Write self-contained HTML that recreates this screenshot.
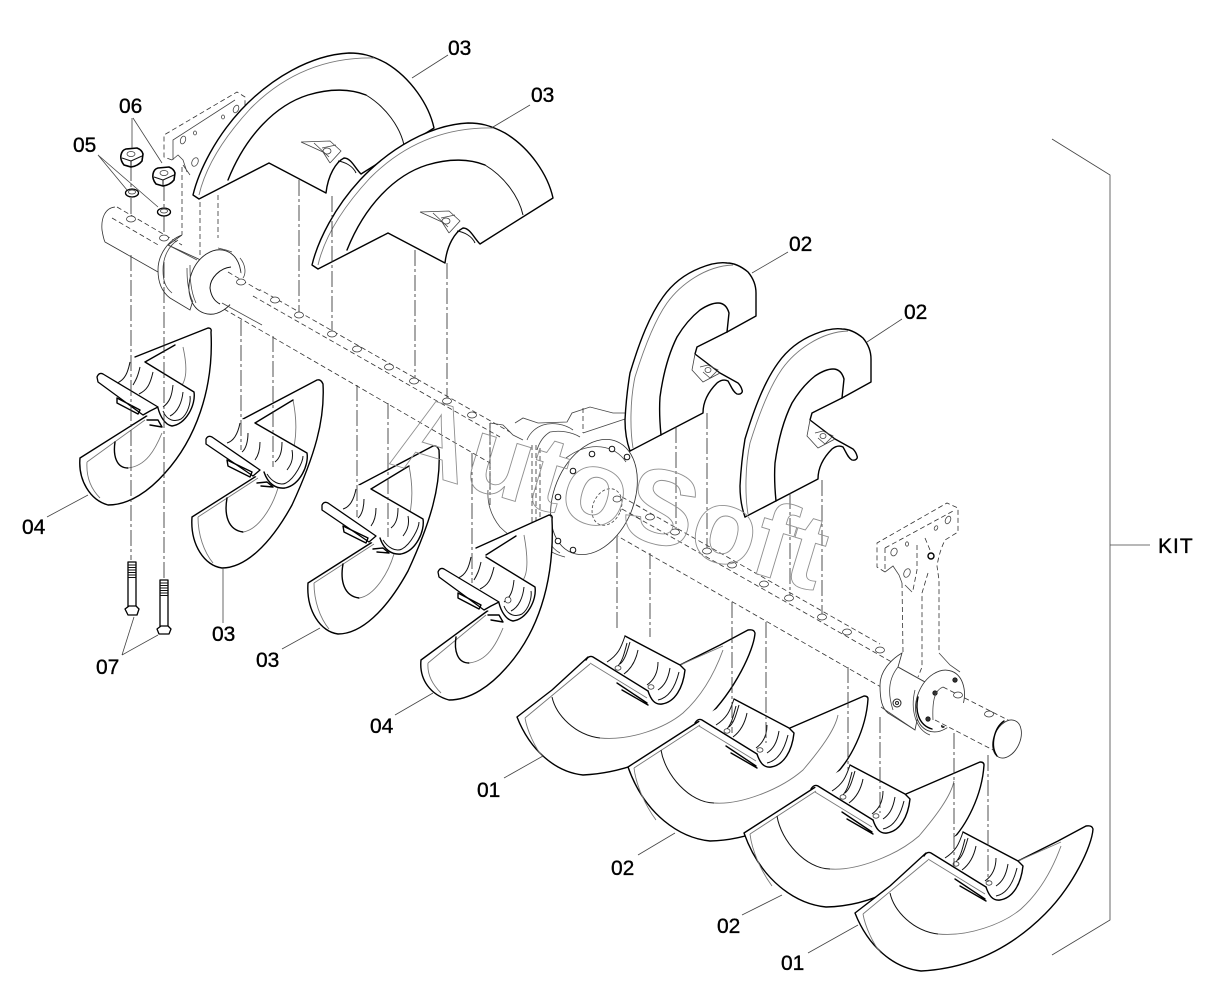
<!DOCTYPE html>
<html><head><meta charset="utf-8"><title>Exploded diagram</title>
<style>
html,body{margin:0;padding:0;background:#fff;width:1218px;height:999px;overflow:hidden}
svg{display:block}
.k{fill:none;stroke:#000;stroke-width:1.4;stroke-linejoin:round;stroke-linecap:round}
.m{fill:none;stroke:#111;stroke-width:1;stroke-linejoin:round}
.l{fill:none;stroke:#777;stroke-width:.9}
.t{fill:none;stroke:#444;stroke-width:.8}
.d{fill:none;stroke:#333;stroke-width:.8;stroke-dasharray:5 3}
.v{fill:none;stroke:#333;stroke-width:.85;stroke-dasharray:16 3 3 3}
.w{fill:#fff;stroke:none}
.wk{fill:#fff;stroke:#000;stroke-width:1.3;stroke-linejoin:round}
.wm{fill:#fff;stroke:#333;stroke-width:.85}
.h{fill:#fff;stroke:#333;stroke-width:.75}
text.n{font-family:"Liberation Sans",sans-serif;font-size:21px;fill:#000;stroke:#000;stroke-width:.35}
text.wm2{font-family:"Liberation Sans",sans-serif;font-weight:bold;font-size:106px;fill:none;stroke:#909090;stroke-width:.9}
</style></head><body>
<svg xmlns="http://www.w3.org/2000/svg" width="1218" height="999" viewBox="0 0 1218 999">
<rect width="1218" height="999" fill="#fff"/>
<defs>
<g id="bladeA">
<path class="w" d="M312 263L318 269L388 233L445 263C447 245 455 232 463 228C470 228 474 238 480 244L553 198C548 175 530 148 505 133C490 125 480 123 468 123C430 125 390 148 360 180C335 207 318 240 312 263Z"/>
<path class="k" d="M312 265L318 269L388 233L445 263C447 245 455 232 463 228C470 228 474 238 480 244L553 198C548 175 530 148 505 133C490 125 480 123 468 123C430 125 390 148 360 180C335 207 318 240 312 265Z"/>
<path class="k" d="M347 250C365 205 395 175 427 165C450 158 470 159 485 165"/>
<path class="m" d="M485 165C505 177 519 197 523 215"/>
<path class="l" d="M318 265C325 235 345 205 370 178C400 148 440 127 493 128"/>
<path class="t" d="M420 212L449 211L460 221L449 233M420 212L442 222L449 233M433 213L448 227M441 218L455 215"/>
<ellipse class="t" cx="446" cy="221" rx="4" ry="3"/>
<path class="m" d="M457 231C464 232 472 236 475 243"/>
</g>
<g id="bladeD">
<path class="w" d="M630 451L625 430C625 400 628 385 630 373C640 340 650 315 663 297C675 280 690 272 700 268L727 263C735 263 742 267 748 272C753 278 756 285 756 293L756 316L727 332L697 347L742 390L737 394L707 403L703 413Z"/>
<path class="k" d="M630 451C626 440 625 430 625 420C626 400 628 385 630 373C640 340 650 315 663 297C675 280 690 272 700 268C710 264 720 262 727 263C735 263 742 267 748 272C753 278 756 285 756 293L756 316L727 332"/>
<path class="k" d="M727 332L729 313C727 306 723 303 718 303C712 303 706 306 700 310C690 318 683 327 677 337C668 355 663 375 660 397C659 412 660 425 661 435"/>
<path class="k" d="M630 451L703 413C703 403 707 393 717 383C722 379 726 380 728 381C731 386 733 392 737 394C741 395 743 392 742 390C741 386 739 384 738 383L720 373L695 354L697 347L727 332"/>
<path class="t" d="M695 354L692 370L703 382L720 373M700 367L708 365L718 370L710 378L703 372"/>
<ellipse class="t" cx="708" cy="370" rx="3" ry="2.5"/>
<path class="l" d="M633 448C630 430 630 400 635 377C645 345 655 320 667 303C680 285 705 266 733 265"/>
</g>
<g id="intB1">
<path class="w" d="M133 357L145 362L194 392L188 413L170 425L143 414L97 380Z"/>
<path class="k" d="M145 362L194 392C196 405 186 424 172 426C165 425 160 416 158 408"/>
<path class="m" d="M163 411C167 421 175 422 181 419C188 414 191 402 190 396"/>
<path class="wk" d="M97 377Q99 372 103 374L158 407L150 411L143 415L98 382Z"/>
<path class="m" d="M130 362C128 372 125 380 117 383M140 367C138 376 136 380 133 385M153 372C150 385 147 390 139 394M173 385C172 395 170 402 163 407M183 392C182 402 178 412 170 416"/>
<path class="k" d="M117 398L140 410L138 414L117 403ZM147 420L158 420L162 427L150 425"/>
</g>
<g id="intB2">
<path class="w" d="M243 419L255 423L307 453L305 470L287 487L270 485L245 470L206 445Z"/>
<path class="k" d="M255 423L307 453C309 465 300 485 285 488C276 489 268 484 264 472"/>
<path class="m" d="M267 474C272 482 280 486 286 483C295 478 303 462 303 456"/>
<path class="wk" d="M206 439Q208 435 212 437L260 470L253 476L206 444Z"/>
<path class="m" d="M240 423C238 433 234 441 227 443M248 433C248 441 246 449 242 452M260 442C260 450 258 456 255 460M282 442C282 452 280 458 275 462M292 450C294 460 290 466 287 470"/>
<path class="k" d="M227 460L252 472L250 477L228 466ZM257 483L267 482L273 487L261 486"/>
</g>
<g id="intC">
<path class="w" d="M588 657L625 636L680 665L685 670C683 690 675 706 660 704L650 692Z"/>
<path class="k" d="M625 636L680 665L685 670C683 688 675 702 662 704C655 705 651 700 648 691"/>
<path class="k" d="M586 660Q589 655 593 657L648 691"/>
<path class="m" d="M625 636C621 648 618 655 607 662M630 642C627 652 625 660 620 664"/>
<path class="m" d="M627 643C624 655 622 662 617 667M638 650C636 660 632 668 624 674M658 662C658 672 654 680 647 685M670 668C668 680 664 686 658 690"/>
<path class="l" d="M590 663L647 698"/>
<path class="m" d="M679 672C675 688 668 698 658 700"/>
<ellipse class="h" cx="618" cy="668" rx="3" ry="2.2"/>
<ellipse class="h" cx="651" cy="687" rx="3" ry="2.2"/>
<path class="k" d="M617 683L647 703M622 690L648 705"/>
</g>
<g id="c01">
<path class="w" d="M517 717L552 690L588 657L625 636L680 665L748 630L755 633C754 650 735 690 707 718C680 745 640 772 583 775C555 772 530 750 517 717Z"/>
<path class="k" d="M517 717L552 690L588 657M680 665L720 645L748 630Q754 629 755 633C754 650 735 690 707 718C680 745 640 772 583 775C555 772 530 750 517 717"/>
<path class="l" d="M525 718L590 664M525 718C527 730 535 748 543 757"/>
<path class="m" d="M552 697C556 715 575 735 600 738"/>
<path class="l" d="M600 738C630 741 665 728 683 713C703 695 715 672 723 650M680 665L723 646"/>
<use href="#intC"/>
</g>
<g id="c02">
<path class="w" d="M628 767L700 720L733 700L796 731L864 696L868 699C866 730 850 760 835 775C800 815 760 840 710 841C680 838 645 815 628 767Z"/>
<path class="k" d="M628 767L701 720M790 728L864 696Q868 696 868 699C866 730 850 760 835 775C800 815 760 840 710 841C680 838 645 815 628 767"/>
<path class="l" d="M634 768L700 725M634 768C636 785 645 805 656 820"/>
<path class="m" d="M661 750C665 775 690 803 714 803"/>
<path class="l" d="M714 803C740 805 780 790 803 770C820 750 835 730 838 715"/>
<use href="#intC" transform="translate(109 63)"/>
</g>
<g id="b1o">
<path class="w" d="M80 458L145 417L135 357L208 328L211 332C214 390 195 440 165 473C150 490 130 505 108 505C90 500 78 480 80 458Z"/>
<path class="k" d="M80 458L145 417L158 408M135 357L208 328Q212 328 211 332C214 390 195 440 165 473C150 490 130 505 108 505C90 500 78 480 80 458"/>
<path class="l" d="M87 462L145 420M87 462C86 478 92 490 100 498M183 347C187 365 187 378 182 385"/>
<path class="k" d="M145 362L175 345"/>
<path class="k" d="M115 442C113 455 116 468 128 468"/>
<path class="l" d="M128 468C146 466 155 450 162 433"/>
<use href="#intB1"/>
</g>
<g id="b2o">
<path class="w" d="M192 517L255 477L243 419L317 380L323 384C325 420 315 455 292 505C270 545 245 568 222 568C205 566 190 545 192 517Z"/>
<path class="k" d="M192 517L258 475M243 419L317 380Q321 379 323 384C325 420 315 455 292 505C270 545 245 568 222 568C205 566 190 545 192 517"/>
<path class="l" d="M198 517L258 478M198 517C198 535 204 552 213 563M293 400C298 425 296 445 290 460"/>
<path class="k" d="M255 423L293 400"/>
<path class="k" d="M227 498C224 515 228 530 243 532"/>
<path class="l" d="M243 532C258 530 272 508 278 488"/>
<use href="#intB2"/>
</g>
</defs>

<!-- shaft -->
<path class="m" d="M115 207C105 208 101 218 102 230C103 236 104 240 105 242L158 272" style="stroke:#333;stroke-width:.8"/>
<path class="d" d="M117 207L182 245M112 218L160 246M236 276L510 432M246 292L500 437M622 497L880 644M622 509L897 665"/>
<path class="d" d="M217 305L490 463M600 526L881 687"/>
<g>
<ellipse class="h" cx="131" cy="219" rx="4.5" ry="3"/><ellipse class="h" cx="164" cy="238" rx="4.5" ry="3"/>
<ellipse class="h" cx="241" cy="282" rx="4.5" ry="3"/><ellipse class="h" cx="275" cy="300" rx="4.5" ry="3"/>
<ellipse class="h" cx="299" cy="315" rx="4.5" ry="3"/><ellipse class="h" cx="332" cy="334" rx="4.5" ry="3"/>
<ellipse class="h" cx="357" cy="349" rx="4.5" ry="3"/><ellipse class="h" cx="389" cy="367" rx="4.5" ry="3"/>
<ellipse class="h" cx="414" cy="381" rx="4.5" ry="3"/><ellipse class="h" cx="447" cy="401" rx="4.5" ry="3"/>
<ellipse class="h" cx="472" cy="415" rx="4.5" ry="3"/>
<ellipse class="h" cx="650" cy="517" rx="4.5" ry="3"/><ellipse class="h" cx="675" cy="532" rx="4.5" ry="3"/>
<ellipse class="h" cx="707" cy="551" rx="4.5" ry="3"/><ellipse class="h" cx="732" cy="565" rx="4.5" ry="3"/>
<ellipse class="h" cx="764" cy="584" rx="4.5" ry="3"/><ellipse class="h" cx="789" cy="598" rx="4.5" ry="3"/>
<ellipse class="h" cx="822" cy="617" rx="4.5" ry="3"/><ellipse class="h" cx="847" cy="632" rx="4.5" ry="3"/>
<ellipse class="h" cx="880" cy="650" rx="4.5" ry="3"/>
</g>

<!-- left bracket -->
<path class="d" d="M172 160L164 157L164 135L237 92L245 97L245 108M182 167V235M200 202V255M218 195V238"/>
<path class="t" d="M173 160V140L235 100M172 160L178 155L183 160L187 172M183 165L190 175"/>
<ellipse class="t" cx="183" cy="140" rx="2.5" ry="4" transform="rotate(20 183 140)"/>
<ellipse class="t" cx="195" cy="133" rx="1.5" ry="2"/>
<ellipse class="t" cx="195" cy="162" rx="3" ry="4.5" transform="rotate(25 195 162)"/>
<ellipse class="t" cx="223" cy="117" rx="1.5" ry="2"/>
<ellipse class="t" cx="236" cy="109" rx="2.5" ry="4" transform="rotate(25 236 109)"/>
<path class="wm" d="M182 235C168 240 158 255 158 270C158 282 162 292 170 298L190 310L205 262L168 245Z"/>
<path class="t" d="M178 240C168 246 163 258 163 270C163 282 166 288 172 293"/>
<path class="t" d="M168 245L197 260"/>
<ellipse class="wk" cx="215" cy="282" rx="25" ry="33" transform="rotate(20 215 282)" style="stroke-width:.9;stroke:#222"/>
<path class="t" d="M187 268C187 275 187 290 193 302M190 265C190 275 190 290 196 303"/>
<path class="w" d="M222 290L231 266L262 288L232 308Z"/>
<path class="m" d="M231 267C220 268 210 278 210 288C211 296 214 301 220 304"/>
<path class="d" d="M228 272L262 292"/>
<path class="t" d="M222 303L262 325"/>
<path class="t" d="M240 258C246 265 246 274 243 278M218 248L226 250L232 252"/>
<ellipse class="h" cx="241" cy="282" rx="4.5" ry="3"/>

<!-- hub housing -->
<path class="t" d="M490 423L503 425L513 435L523 440M515 423L523 418L538 423L567 422L572 413L590 407L613 413L625 413"/>
<path class="d" d="M490 423V490M583 408V433M532 445V530M536 445V530M540 448V525"/>
<path class="t" d="M488 490C487 505 492 517 500 527C510 537 522 545 540 552"/>
<path class="t" d="M583 433L625 419M527 440C530 432 537 427 543 425C552 422 565 424 573 430M537 450C540 440 545 435 550 432C560 430 572 432 580 437"/>
<path class="t" d="M533 523C534 540 545 552 565 557M543 523C545 535 550 548 560 553"/>
<ellipse class="wm" cx="594" cy="497" rx="40" ry="60" transform="rotate(22 594 497)"/>
<path class="t" d="M566 458C590 440 615 445 626 462"/>
<ellipse class="t" cx="607" cy="507" rx="14" ry="19" transform="rotate(24 607 507)" stroke-dasharray="3 2"/>
<g fill="#fff" stroke="#111" stroke-width="1">
<circle cx="592" cy="454" r="2.8"/><circle cx="612" cy="449" r="2.8"/><circle cx="627" cy="457" r="2.8"/><circle cx="573" cy="471" r="2.8"/><circle cx="558" cy="497" r="2.8"/><circle cx="558" cy="541" r="2.8"/><circle cx="573" cy="550" r="2.8"/>
</g>
<path class="d" d="M622 497L640 507M622 509L640 519"/>
<ellipse class="h" cx="617" cy="499" rx="4" ry="3"/>

<!-- right bracket -->
<path class="d" d="M885 572L877 567V543L947 503L958 508V532L945 540C940 550 938 560 937 566L939 580V653M885 548L955 510M885 548V572M902 583L903 652M917 545L917 570L913 590M928 573L922 593V667L918 677"/>
<path class="t" d="M885 572L893 566L899 575L902 583M905 585L912 592M939 653L950 665L960 672"/>
<ellipse class="t" cx="894" cy="552" rx="3" ry="4" transform="rotate(25 894 552)"/>
<ellipse class="t" cx="907" cy="544" rx="1.5" ry="2.2"/>
<ellipse class="t" cx="907" cy="573" rx="3" ry="4.5" transform="rotate(25 907 573)"/>
<ellipse class="t" cx="936" cy="528" rx="1.6" ry="2.4" transform="rotate(25 936 528)"/>
<ellipse class="t" cx="948" cy="520" rx="2.5" ry="4" transform="rotate(25 948 520)"/>
<circle cx="931" cy="556" r="3" fill="#fff" stroke="#000" stroke-width="1.4"/>
<path class="d" d="M925 538L930 550"/>
<path class="wm" d="M902 653C890 660 880 672 880 685C880 700 882 708 888 713L915 730L925 682L898 667Z"/>
<path class="t" d="M898 667C889 678 887 692 893 710"/>
<path class="t" d="M898 667L925 682M881 707L915 730"/>
<circle cx="897" cy="703" r="4" fill="#fff" stroke="#222"/><circle cx="897" cy="703" r="1.5" fill="none" stroke="#222"/>
<ellipse class="wm" cx="940" cy="701" rx="23" ry="32" transform="rotate(22 940 701)"/>
<path class="k" d="M918 697C915 710 918 725 932 729"/>
<path class="t" d="M915 690C910 710 916 730 930 735"/>
<g fill="#333" stroke="#111" stroke-width=".8"><circle cx="955" cy="680" r="2.2"/><circle cx="935" cy="693" r="2.2"/><circle cx="928" cy="719" r="2.2"/><circle cx="943" cy="726" r="1.5"/></g>
<path class="w" d="M938 692L1008 722L1000 752L935 722Z"/>
<path class="t" d="M943 687C935 690 932 700 933 720"/>
<path class="d" d="M943 687L1012 722M935 720L993 750"/>
<ellipse class="h" cx="958" cy="695" rx="4.5" ry="3"/><ellipse class="h" cx="989" cy="714" rx="4.5" ry="3"/>
<ellipse class="wm" cx="1007" cy="739" rx="13" ry="20" transform="rotate(24 1007 739)"/>
<path class="k" d="M1004 721C994 728 990 746 997 756"/>

<!-- top blades -->
<use href="#bladeA" transform="translate(-119 -70)"/>
<use href="#bladeA"/>
<use href="#bladeD"/>
<use href="#bladeD" transform="translate(115 66)"/>

<!-- lower left blades -->
<use href="#b1o"/>
<use href="#b2o"/>
<use href="#b2o" transform="translate(116 66)"/>
<g transform="translate(341 195)">
<path class="w" d="M80 465L145 417L135 353L208 320L211 324C214 390 195 440 165 473C150 490 130 505 108 505C90 500 78 485 80 465Z"/>
<path class="k" d="M80 465L145 417L158 408M135 353L208 320Q212 320 211 324C214 390 195 440 165 473C150 490 130 505 108 505C90 500 78 485 80 465"/>
<path class="l" d="M87 468L145 420M87 468C86 480 92 490 100 498M183 340C187 362 187 378 182 385"/>
<path class="k" d="M145 360L175 341"/>
<path class="k" d="M115 442C113 455 116 468 128 468"/>
<path class="l" d="M128 468C146 466 155 450 162 433"/>
<use href="#intB1"/>
</g>
<circle cx="508" cy="600" r="3" fill="#fff" stroke="#333" stroke-width=".8"/>

<!-- lower right blades -->
<use href="#c01"/>
<use href="#c02"/>
<use href="#c02" transform="translate(116 66)"/>
<use href="#c01" transform="translate(338 196)"/>

<!-- vertical assembly lines -->
<path class="v" d="M131 165V188M131 198V214M131 255V560M164 185V207M164 216V233M164 262V578"/>
<path class="v" d="M241 320V450M273 336V467M299 180V312M332 196V331M357 385V517M388 403V537M415 250V378M447 263V398M472 453V583M490 423V505"/>
<path class="v" d="M617 537V630M650 553V637M676 427V529M707 413V548M732 602V733M766 622V743M790 493V595M822 480V614M848 667V770M880 717V813M954 733V866M988 755V882"/>

<!-- hardware -->
<path class="wk" style="stroke-width:1.6" d="M121 155Q122 150 126 149L137 148Q142 150 143 154L142 161Q138 166 131 167L124 165Q120 160 121 155Z"/>
<path class="m" d="M122 158L131 161L142 156M131 161V167"/>
<ellipse class="h" cx="131" cy="154" rx="4" ry="2.5"/>
<path class="wk" style="stroke-width:1.6" d="M153 174Q154 169 158 168L169 167Q174 169 175 173L174 180Q170 185 163 186L156 184Q152 179 153 174Z"/>
<path class="m" d="M154 177L163 180L174 175M163 180V186"/>
<ellipse class="h" cx="164" cy="173" rx="4" ry="2.5"/>
<ellipse class="wk" cx="132" cy="193" rx="6.5" ry="4"/><ellipse class="h" cx="132" cy="192" rx="3.5" ry="2"/>
<ellipse class="wk" cx="164" cy="212" rx="6.5" ry="4"/><ellipse class="h" cx="164" cy="211" rx="3.5" ry="2"/>

<path class="wk" d="M128 562H136V607H128Z"/>
<path class="m" d="M128 565H136M128 567.5H136M128 570H136M128 572.5H136M128 575H136M128 577.5H136"/>
<path class="wk" d="M125 609L129 606H136L139 609L137 615H128Z"/>
<path class="wk" d="M160 580H168V627H160Z"/>
<path class="m" d="M160 583H168M160 585.5H168M160 588H168M160 590.5H168M160 593H168M160 595.5H168"/>
<path class="wk" d="M157 629L161 626H168L171 629L169 634H159Z"/>

<!-- leaders -->
<path class="t" d="M448 55L412 78M530 105L493 127M132 118V148M133 118L162 163M98 155L127 190M98 155L158 207M88 495L47 517M223 568V623M320 628L282 649M433 693L395 715M122 655L134 617M122 655L158 635M788 252L752 273M902 319L867 342M543 756L504 778M675 833L638 855M782 895L742 915M858 925L808 953"/>
<path class="t" d="M1052 139L1110 175V920L1052 955M1110 545H1150"/>

<!-- labels -->
<text class="n" x="448" y="55">03</text>
<text class="n" x="531" y="102">03</text>
<text class="n" x="119" y="113">06</text>
<text class="n" x="73" y="152">05</text>
<text class="n" x="22" y="534">04</text>
<text class="n" x="96" y="674">07</text>
<text class="n" x="212" y="641">03</text>
<text class="n" x="256" y="667">03</text>
<text class="n" x="370" y="733">04</text>
<text class="n" x="789" y="251">02</text>
<text class="n" x="904" y="319">02</text>
<text class="n" x="477" y="797">01</text>
<text class="n" x="611" y="875">02</text>
<text class="n" x="717" y="933">02</text>
<text class="n" x="781" y="970">01</text>
<text class="n" x="1158" y="553" letter-spacing="1">KIT</text>

<!-- watermark -->
<text class="wm2" transform="translate(387 463) rotate(16.7)" textLength="446" lengthAdjust="spacingAndGlyphs">AutoSoft</text>
</svg>
</body></html>
